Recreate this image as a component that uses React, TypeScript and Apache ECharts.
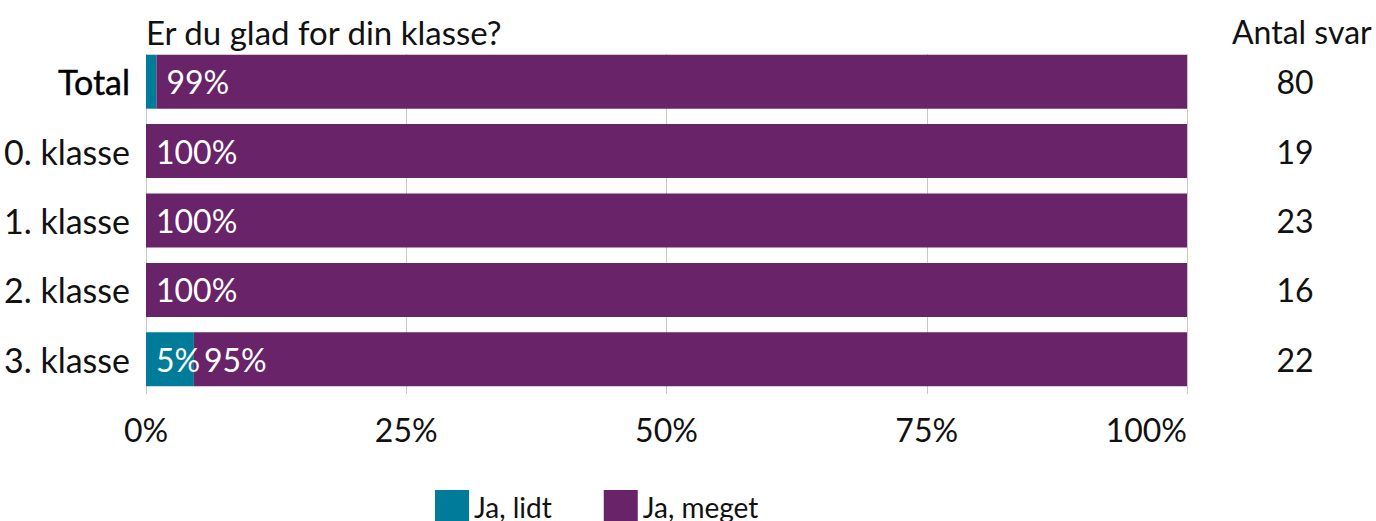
import React, { useEffect, useRef } from "react";
import * as echarts from "echarts";

const categories = ["Total", "0. klasse", "1. klasse", "2. klasse", "3. klasse"];
const lidt = [1, 0, 0, 0, 4.6];
const meget = [99, 100, 100, 100, 95.4];
const antal = [80, 19, 23, 16, 22];
const xTicks = [0, 25, 50, 75, 100];
const seriesNames = ["Ja, lidt", "Ja, meget"];
const title = "Er du glad for din klasse?";
const countHeader = "Antal svar";

const TEAL = "#007B9A";
const PURPLE = "#692369";
const FONT = "Lato";
const FS = 32;

export default function App() {
  const ref = useRef<HTMLDivElement>(null);
  useEffect(() => {
    document.body.style.margin = "0";
    const chart = echarts.init(ref.current!, null, { renderer: "svg" });
    const lbl = (show: boolean) => ({
      show,
      position: "insideLeft",
      distance: 10,
      color: "#fff",
      fontFamily: FONT,
      fontSize: FS,
      formatter: (p: any) => Math.round(p.value) + "%",
    });
    chart.setOption({
      animation: false,
      textStyle: { fontFamily: FONT },
      title: {
        text: title,
        left: 141,
        top: 10,
        textStyle: { fontFamily: FONT, fontSize: 33, fontWeight: "normal", color: "#111" },
      },
      graphic: [
        {
          type: "rect",
          z: 1,
          shape: { x: 140, y: 42, width: 1060, height: 12 },
          style: { fill: "#fff" },
        },
        {
          type: "text",
          left: 1232,
          top: 15,
          style: { text: countHeader, fontFamily: FONT, fontSize: FS, fill: "#111" },
        },
      ],
      legend: {
        left: 430,
        top: 485,
        itemWidth: 34,
        itemHeight: 34,
        itemGap: 52,
        icon: "rect",
        textStyle: { fontFamily: FONT, fontSize: 28, color: "#111", padding: [12, 0, 0, 0] },
        data: seriesNames,
      },
      grid: {
        left: 146,
        right: 189,
        top: 47,
        bottom: 127,
        containLabel: false,
        outerBoundsMode: "none",
      },
      xAxis: {
        type: "value",
        min: 0,
        max: 100,
        interval: 25,
        axisLine: { show: false },
        axisTick: { show: false },
        splitLine: { lineStyle: { color: "#c8c8c8", width: 1 } },
        axisLabel: {
          formatter: (v: number) => (xTicks.includes(v) ? v + "%" : ""),
          fontFamily: FONT,
          fontSize: FS,
          color: "#111",
          margin: 19,
          alignMaxLabel: "right",
        },
      },
      yAxis: [
        {
          type: "category",
          data: categories,
          inverse: true,
          axisLine: { show: false },
          axisTick: { show: false },
          axisLabel: {
            fontFamily: FONT,
            fontSize: 34,
            color: "#111",
            margin: 16,
            formatter: (v: string) => (v === "Total" ? "{b|" + v + "}" : v),
            rich: {
              b: {
                fontFamily: FONT,
                fontSize: 34,
                color: "#000",
                textBorderColor: "#000",
                textBorderWidth: 0.4,
              },
            },
          },
        },
        {
          type: "category",
          data: antal.map(String),
          inverse: true,
          position: "right",
          axisLine: { show: false },
          axisTick: { show: false },
          axisLabel: {
            fontFamily: FONT,
            fontSize: FS,
            color: "#111",
            margin: 108,
            align: "center",
          },
        },
      ],
      series: [
        {
          name: seriesNames[0],
          type: "bar",
          stack: "s",
          barWidth: 54,
          z: 3,
          itemStyle: { color: TEAL },
          data: lidt.map((v) => ({ value: v, label: lbl(v >= 3) })),
        },
        {
          name: seriesNames[1],
          type: "bar",
          stack: "s",
          barWidth: 54,
          z: 3,
          itemStyle: { color: PURPLE },
          data: meget.map((v) => ({ value: v, label: lbl(v >= 3) })),
        },
      ],
    });
    return () => chart.dispose();
  }, []);
  return <div ref={ref} style={{ width: 1376, height: 521 }} />;
}
